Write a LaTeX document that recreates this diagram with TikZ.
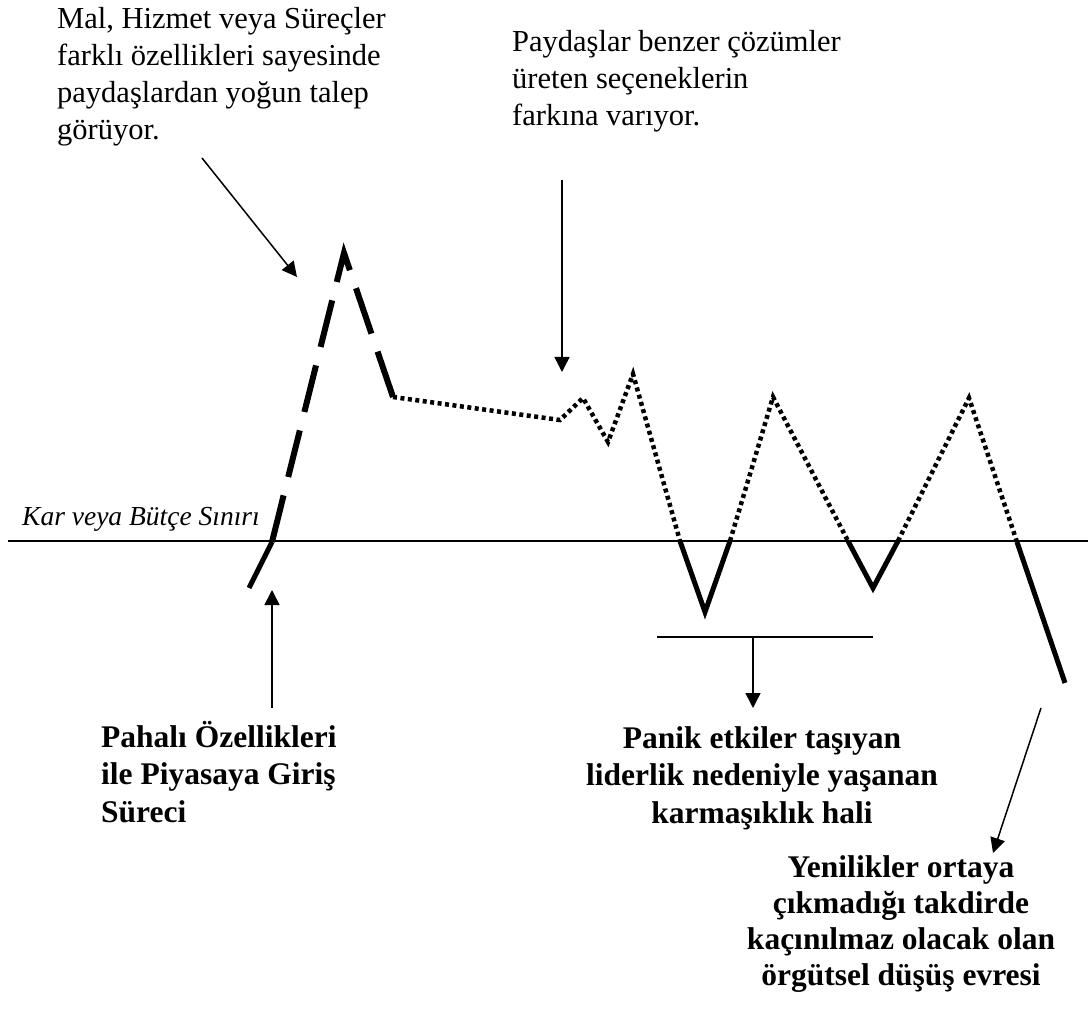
\documentclass[tikz,border=0pt]{standalone}
\usepackage{fontspec}
\setmainfont{Liberation Serif}
\usetikzlibrary{arrows.meta}
\begin{document}
\begin{tikzpicture}[x=1pt,y=-1pt,
  txt/.style={inner sep=0pt, align=left, font=\fontsize{30.5}{37}\selectfont},
  btxt/.style={inner sep=0pt, font=\fontsize{31.5}{37.5}\selectfont\bfseries},
  limitlabel/.style={inner sep=0pt, font=\fontsize{27.5}{30}\selectfont\itshape},
  pointer/.style={line width=1.5pt, -{Triangle[length=15pt,width=15pt]}},
  solidseg/.style={line width=5pt},
  dashseg/.style={line width=6pt, dash pattern=on 48pt off 19pt},
  dotseg/.style={line width=4.5pt, dash pattern=on 4pt off 3.5pt},
  limit/.style={line width=1.6pt}]
\useasboundingbox (0,0) rectangle (1088,1016);

% profit / budget limit
\coordinate (b0) at (8,541);
\coordinate (b1) at (1088,541);
\draw[limit] (b0) -- (b1);
\node[limitlabel, anchor=base west] (lim) at (22,525) {Kar veya Bütçe Sınırı};

% vertices of the life-cycle curve
\coordinate (s0) at (249,588);
\coordinate (c1) at (272,542);
\coordinate (p1) at (344,253);
\coordinate (k1) at (393,397);
\coordinate (d1) at (560,420);
\coordinate (d2) at (583,398);
\coordinate (d3) at (608,442);
\coordinate (d4) at (633,374);
\coordinate (c2) at (680,541);
\coordinate (v1) at (705,612);
\coordinate (c3) at (730,541);
\coordinate (p2) at (773,397);
\coordinate (c4) at (848,541);
\coordinate (v2) at (873,588);
\coordinate (c5) at (898,541);
\coordinate (p3) at (969,398);
\coordinate (c6) at (1017,542);
\coordinate (e1) at (1065,683);

% curve: solid below the limit, dashed rise, dotted plateau above it
\draw[solidseg] (s0) -- (c1);
\draw[dashseg] (c1) -- (p1) -- (k1);
\draw[dotseg] (k1) -- (d1) -- (d2) -- (d3) -- (d4) -- (c2);
\draw[solidseg] (c2) -- (v1) -- (c3);
\draw[dotseg] (c3) -- (p2) -- (c4);
\draw[solidseg] (c4) -- (v2) -- (c5);
\draw[dotseg] (c5) -- (p3) -- (c6);
\draw[solidseg] (c6) -- (e1);

% annotations (anchored at the baseline of their last line)
\node[txt, anchor=base west] (t1) at (57,140)
  {Mal, Hizmet veya Süreçler\\farklı özellikleri sayesinde\\paydaşlardan yoğun talep\\görüyor.};
\node[txt, anchor=base west] (t2) at (512,126)
  {Paydaşlar benzer çözümler\\üreten seçeneklerin\\farkına varıyor.};
\node[btxt, align=left, anchor=base west] (t3) at (101,822)
  {Pahalı Özellikleri\\ile Piyasaya Giriş\\Süreci};
\node[btxt, align=center, anchor=base] (t4) at (762,823)
  {Panik etkiler taşıyan\\liderlik nedeniyle yaşanan\\karmaşıklık hali};
\node[btxt, align=center, anchor=base, font=\fontsize{31.5}{36}\selectfont\bfseries] (t5) at (901,985)
  {Yenilikler ortaya\\çıkmadığı takdirde\\kaçınılmaz olacak olan\\örgütsel düşüş evresi};

% pointers
\coordinate (a1s) at (202,158);
\coordinate (a1e) at (297,277);
\draw[pointer] (a1s) -- (a1e);

\coordinate (a2s) at (562,180);
\coordinate (a2e) at (562,372);
\draw[pointer] (a2s) -- (a2e);

\coordinate (a3s) at (272,708);
\coordinate (a3e) at (272,590);
\draw[pointer] (a3s) -- (a3e);

\coordinate (br0) at (657,637);
\coordinate (br1) at (873,637);
\coordinate (brm) at (753,637);
\coordinate (a4e) at (753,708);
\draw[limit] (br0) -- (br1);
\draw[pointer] (brm) -- (a4e);

\coordinate (a5s) at (1041,708);
\coordinate (a5e) at (993,853);
\draw[pointer] (a5s) -- (a5e);
\end{tikzpicture}
\end{document}
